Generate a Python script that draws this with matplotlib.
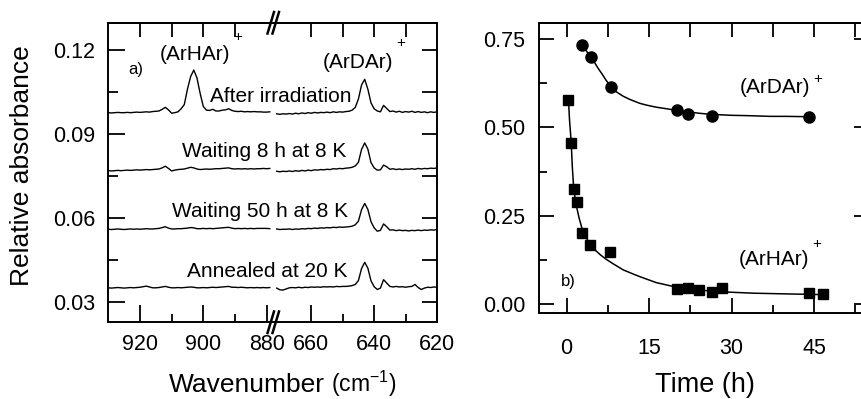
import matplotlib
matplotlib.use('Agg')
import matplotlib.pyplot as plt
from matplotlib.ticker import MultipleLocator, FixedLocator, FormatStrFormatter
from matplotlib.lines import Line2D

plt.rcParams['font.family'] = ['Liberation Sans', 'DejaVu Sans']
plt.rcParams['mathtext.default'] = 'regular'

# ---------------- data: panel a) spectra ----------------
wn_left = list(range(930, 878, -1))    # 930 ... 879 cm-1
wn_right = list(range(671, 619, -1))   # 671 ... 620 cm-1

irr_left = [0.0976, 0.0975, 0.0976, 0.0977, 0.0976, 0.0976, 0.0977, 0.0976, 0.0977, 0.0978,
            0.0977, 0.0978, 0.0979, 0.0978, 0.0980, 0.0981, 0.0982, 0.0988, 0.0995, 0.0986,
            0.0974, 0.0976, 0.0979, 0.0990, 0.1005, 0.1060, 0.1105, 0.1128, 0.1100, 0.1045,
            0.0998, 0.0985, 0.0984, 0.0988, 0.0982, 0.0982, 0.0985, 0.0986, 0.0990, 0.0984,
            0.0981, 0.0980, 0.0981, 0.0979, 0.0980, 0.0979, 0.0980, 0.0979, 0.0979, 0.0978,
            0.0978, 0.0979]
irr_right = [0.0972, 0.0970, 0.0972, 0.0971, 0.0973, 0.0971, 0.0974, 0.0972, 0.0975, 0.0973,
             0.0976, 0.0974, 0.0977, 0.0975, 0.0977, 0.0976, 0.0978, 0.0976, 0.0979, 0.0977,
             0.0979, 0.0978, 0.0980, 0.0981, 0.0985, 0.0995, 0.1025, 0.1075, 0.1095, 0.1060,
             0.1011, 0.0990, 0.0982, 0.0979, 0.1002, 0.0991, 0.0980, 0.0982, 0.0978, 0.0981,
             0.0977, 0.0980, 0.0978, 0.0981, 0.0977, 0.0980, 0.0977, 0.0979, 0.0976, 0.0979,
             0.0977, 0.0979]

w8_left = [0.0769, 0.0768, 0.0769, 0.0770, 0.0769, 0.0770, 0.0771, 0.0770, 0.0771, 0.0772,
           0.0771, 0.0772, 0.0773, 0.0772, 0.0773, 0.0774, 0.0775, 0.0779, 0.0785, 0.0777,
           0.0768, 0.0771, 0.0773, 0.0774, 0.0775, 0.0778, 0.0781, 0.0779, 0.0775, 0.0773,
           0.0774, 0.0775, 0.0774, 0.0775, 0.0776, 0.0776, 0.0777, 0.0778, 0.0779, 0.0776,
           0.0775, 0.0776, 0.0775, 0.0776, 0.0775, 0.0776, 0.0775, 0.0776, 0.0776, 0.0777,
           0.0776, 0.0777]
w8_right = [0.0767, 0.0765, 0.0767, 0.0766, 0.0768, 0.0766, 0.0769, 0.0767, 0.0770, 0.0768,
            0.0771, 0.0769, 0.0772, 0.0771, 0.0773, 0.0772, 0.0774, 0.0773, 0.0776, 0.0775,
            0.0777, 0.0776, 0.0778, 0.0779, 0.0781, 0.0786, 0.0799, 0.0845, 0.0868, 0.0846,
            0.0798, 0.0779, 0.0771, 0.0772, 0.0789, 0.0783, 0.0774, 0.0776, 0.0773, 0.0775,
            0.0773, 0.0775, 0.0774, 0.0776, 0.0774, 0.0777, 0.0775, 0.0777, 0.0776, 0.0778,
            0.0777, 0.0779]

w50_left = [0.0560, 0.0559, 0.0560, 0.0561, 0.0560, 0.0559, 0.0560, 0.0561, 0.0560, 0.0561,
            0.0560, 0.0561, 0.0562, 0.0561, 0.0561, 0.0562, 0.0563, 0.0566, 0.0569, 0.0564,
            0.0561, 0.0561, 0.0562, 0.0562, 0.0563, 0.0564, 0.0566, 0.0565, 0.0562, 0.0562,
            0.0563, 0.0562, 0.0563, 0.0562, 0.0563, 0.0564, 0.0565, 0.0566, 0.0567, 0.0564,
            0.0562, 0.0563, 0.0562, 0.0563, 0.0562, 0.0563, 0.0562, 0.0563, 0.0563, 0.0563,
            0.0563, 0.0562]
w50_right = [0.0561, 0.0559, 0.0560, 0.0560, 0.0561, 0.0559, 0.0561, 0.0560, 0.0562, 0.0561,
             0.0563, 0.0562, 0.0564, 0.0563, 0.0565, 0.0564, 0.0566, 0.0565, 0.0567, 0.0566,
             0.0568, 0.0567, 0.0568, 0.0569, 0.0571, 0.0576, 0.0589, 0.0630, 0.0652, 0.0631,
             0.0587, 0.0565, 0.0553, 0.0556, 0.0579, 0.0569, 0.0557, 0.0558, 0.0555, 0.0557,
             0.0555, 0.0556, 0.0554, 0.0556, 0.0555, 0.0557, 0.0555, 0.0557, 0.0556, 0.0558,
             0.0557, 0.0559]

ann_left = [0.0351, 0.0350, 0.0351, 0.0352, 0.0351, 0.0350, 0.0351, 0.0352, 0.0351, 0.0352,
            0.0353, 0.0355, 0.0357, 0.0354, 0.0351, 0.0351, 0.0352, 0.0354, 0.0356, 0.0353,
            0.0351, 0.0351, 0.0352, 0.0351, 0.0352, 0.0353, 0.0354, 0.0353, 0.0351, 0.0351,
            0.0352, 0.0351, 0.0352, 0.0353, 0.0352, 0.0353, 0.0354, 0.0355, 0.0356, 0.0353,
            0.0353, 0.0352, 0.0353, 0.0352, 0.0351, 0.0352, 0.0351, 0.0352, 0.0351, 0.0352,
            0.0351, 0.0352]
ann_right = [0.0350, 0.0344, 0.0343, 0.0347, 0.0351, 0.0352, 0.0351, 0.0353, 0.0351, 0.0353,
             0.0352, 0.0354, 0.0353, 0.0354, 0.0353, 0.0355, 0.0354, 0.0355, 0.0354, 0.0356,
             0.0355, 0.0356, 0.0356, 0.0357, 0.0359, 0.0363, 0.0377, 0.0420, 0.0442, 0.0421,
             0.0376, 0.0355, 0.0345, 0.0350, 0.0380, 0.0368, 0.0356, 0.0354, 0.0356, 0.0354,
             0.0355, 0.0353, 0.0355, 0.0356, 0.0363, 0.0352, 0.0345, 0.0350, 0.0353, 0.0352,
             0.0354, 0.0353]

# ---------------- data: panel b) kinetics ----------------
t_ArDAr = [2.9, 4.4, 8.0, 20.1, 22.0, 26.5, 44.1]
a_ArDAr = [0.733, 0.700, 0.615, 0.549, 0.537, 0.532, 0.529]
t_ArHAr = [0.36, 0.86, 1.28, 1.88, 2.86, 4.3, 7.84, 20.0, 22.0, 24.1, 26.4, 28.2, 44.1, 46.6]
a_ArHAr = [0.578, 0.457, 0.326, 0.290, 0.201, 0.168, 0.147, 0.043, 0.046, 0.041, 0.035, 0.046, 0.031, 0.029]

fit_t_D = [2.9, 3.5, 4.4, 5.0, 5.7, 6.5, 7.2, 8.0, 9.0, 10.3, 11.5, 13.3, 14.5, 16.3, 18.0,
           20.0, 22.0, 24.0, 26.0, 30.0, 33.0, 37.0, 40.0, 44.1]
fit_a_D = [0.733, 0.718, 0.700, 0.686, 0.668, 0.650, 0.633, 0.617, 0.601, 0.588, 0.579, 0.568,
           0.563, 0.557, 0.553, 0.548, 0.544, 0.540, 0.537, 0.534, 0.533, 0.531, 0.531, 0.530]
fit_t_H = [0.36, 0.55, 0.86, 1.05, 1.28, 1.6, 1.88, 2.3, 2.86, 3.5, 4.3, 5.2, 6.2, 7.2, 8.5,
           10.3, 12.0, 13.3, 16.3, 20.0, 24.0, 28.0, 34.0, 40.0, 46.6]
fit_a_H = [0.578, 0.521, 0.457, 0.390, 0.335, 0.295, 0.272, 0.243, 0.212, 0.190, 0.170, 0.153,
           0.139, 0.127, 0.114, 0.097, 0.086, 0.078, 0.061, 0.048, 0.040, 0.035, 0.031, 0.029,
           0.027]

# ---------------- figure ----------------
W, H = 861, 399
fig = plt.figure(figsize=(W / 100, H / 100), dpi=100)


def fx(px):
    return px / W


def fy(py):
    return 1 - py / H


LW_SP = 1.4
FS_TICK = 15.5
FS_ANN = 15

axA = fig.add_axes([fx(108), fy(322), fx(272) - fx(108), fy(23) - fy(322)])
axB = fig.add_axes([fx(272), fy(322), fx(437) - fx(272), fy(23) - fy(322)])

for ax, wn, series in ((axA, wn_left, (irr_left, w8_left, w50_left, ann_left)),
                       (axB, wn_right, (irr_right, w8_right, w50_right, ann_right))):
    for s in series:
        ax.plot(wn, s, color='black', lw=1.0)
    ax.set_ylim(0.0229, 0.1296)
    for sp in ax.spines.values():
        sp.set_linewidth(LW_SP)

axA.set_xlim(930.1, 878.3)
axB.set_xlim(672.5, 620)
axA.spines['right'].set_visible(False)
axB.spines['left'].set_visible(False)

axA.xaxis.set_major_locator(FixedLocator([920, 900, 880]))
axA.xaxis.set_minor_locator(FixedLocator([910, 890]))
axB.xaxis.set_major_locator(FixedLocator([660, 640, 620]))
axB.xaxis.set_minor_locator(FixedLocator([650, 630]))
for ax in (axA, axB):
    ax.tick_params(axis='x', which='major', direction='in', length=12, width=1.3,
                   labelsize=FS_TICK, pad=9, top=False)
    ax.tick_params(axis='x', which='minor', direction='in', length=6, width=1.3, top=False)
    ax.xaxis.set_major_formatter(FormatStrFormatter('%d'))

axA.yaxis.set_major_locator(MultipleLocator(0.03))
axA.yaxis.set_minor_locator(MultipleLocator(0.015))
axA.yaxis.set_major_formatter(FormatStrFormatter('%.2f'))
axA.tick_params(axis='y', which='major', direction='in', length=12, width=1.3,
                labelsize=FS_TICK, pad=9, right=False)
axA.tick_params(axis='y', which='minor', direction='in', length=7, width=1.3, right=False)

axB.yaxis.set_major_locator(MultipleLocator(0.015))
axB.yaxis.set_minor_locator(FixedLocator([]))
axB.tick_params(axis='y', which='major', direction='in', length=11, width=1.3,
                left=False, labelleft=False, right=True)

secA = axA.secondary_xaxis('top')
secA.set_xticks([920, 910, 900, 890])
secA.tick_params(direction='in', length=10, width=1.3, labeltop=False)
secA.spines['top'].set_linewidth(LW_SP)
secB = axB.secondary_xaxis('top')
secB.set_xticks([660, 650, 640, 630])
secB.tick_params(direction='in', length=10, width=1.3, labeltop=False)
secB.spines['top'].set_linewidth(LW_SP)

# annotations panel a
axA.text(921.3, 0.1114, 'a)', fontsize=12, ha='center', va='baseline')
axA.text(902.6, 0.1164, '(ArHAr)', fontsize=FS_ANN, ha='center', va='baseline')
axA.text(889.0, 0.1245, '+', fontsize=11, ha='center', va='center')
axB.text(645.2, 0.1135, '(ArDAr)', fontsize=FS_ANN, ha='center', va='baseline')
axB.text(631.6, 0.1224, '+', fontsize=11, ha='center', va='center')
axB.text(647.3, 0.1015, 'After irradiation', fontsize=FS_ANN, ha='right', va='baseline')
axB.text(648.9, 0.0819, 'Waiting 8 h at 8 K', fontsize=FS_ANN, ha='right', va='baseline')
axB.text(648.4, 0.0605, 'Waiting 50 h at 8 K', fontsize=FS_ANN, ha='right', va='baseline')
axB.text(648.6, 0.0391, 'Annealed at 20 K', fontsize=FS_ANN, ha='right', va='baseline')

# axis break marks
for y0, y1 in ((12, 33.5), (311.5, 333)):
    for dx in (0, 5):
        fig.add_artist(Line2D([fx(267.5 + dx), fx(274 + dx)], [fy(y1), fy(y0)],
                              color='black', lw=1.8, transform=fig.transFigure))

fig.text(fx(22), fy(166), 'Relative absorbance', rotation=90, fontsize=19,
         ha='center', va='center')
fig.text(fx(325), fy(392), 'Wavenumber', fontsize=19, ha='right', va='baseline')
fig.text(fx(331), fy(392), '(cm$^{-1}$)', fontsize=16.5, ha='left', va='baseline')

# ---------------- panel b ----------------
axC = fig.add_axes([fx(539), fy(313), fx(869) - fx(539), fy(23) - fy(313)])
axC.plot(fit_t_D, fit_a_D, color='black', lw=1.1)
axC.plot(fit_t_H, fit_a_H, color='black', lw=1.1)
axC.plot(t_ArDAr, a_ArDAr, 'o', color='black', ms=8, clip_on=False)
axC.plot(t_ArHAr, a_ArHAr, 's', color='black', ms=7.2, clip_on=False)
axC.set_xlim(-5, 55)
axC.set_ylim(-0.025, 0.795)
for sp in axC.spines.values():
    sp.set_linewidth(LW_SP)
axC.xaxis.set_major_locator(MultipleLocator(15))
axC.xaxis.set_minor_locator(MultipleLocator(7.5))
axC.yaxis.set_major_locator(MultipleLocator(0.25))
axC.yaxis.set_minor_locator(MultipleLocator(0.125))
axC.yaxis.set_major_formatter(FormatStrFormatter('%.2f'))
axC.tick_params(axis='x', which='major', direction='in', length=11, width=1.3,
                labelsize=FS_TICK, pad=18, top=False)
axC.tick_params(axis='x', which='minor', direction='in', length=6, width=1.3, top=False)
axC.tick_params(axis='y', which='major', direction='in', length=11, width=1.3,
                labelsize=FS_TICK, pad=10, right=True)
axC.tick_params(axis='y', which='minor', direction='in', length=6, width=1.3, right=True)
secC = axC.secondary_xaxis('top')
secC.set_xticks([0, 7.5, 15, 22.5, 30, 37.5, 45, 52.5])
secC.tick_params(direction='in', length=10, width=1.3, labeltop=False)
secC.spines['top'].set_linewidth(LW_SP)

axC.text(37.9, 0.597, '(ArDAr)', fontsize=FS_ANN, ha='center', va='baseline')
axC.text(45.7, 0.636, '+', fontsize=11, ha='center', va='center')
axC.text(37.7, 0.110, '(ArHAr)', fontsize=FS_ANN, ha='center', va='baseline')
axC.text(45.5, 0.171, '+', fontsize=11, ha='center', va='center')
axC.text(0.36, 0.051, 'b)', fontsize=12, ha='center', va='baseline')

fig.text(fx(705), fy(392), 'Time (h)', fontsize=19.5, ha='center', va='baseline')

fig.savefig('out.png', dpi=100)
